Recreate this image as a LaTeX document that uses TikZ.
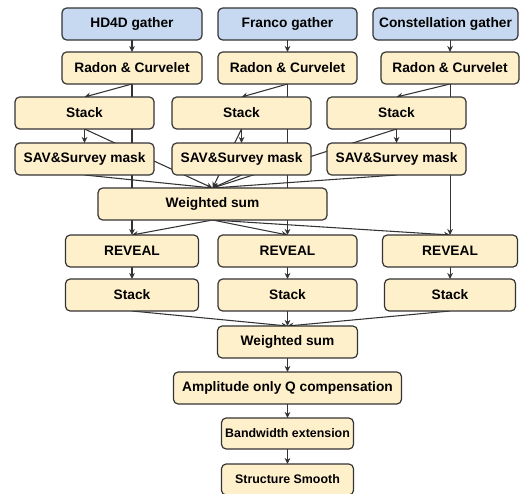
\documentclass[tikz,border=0pt]{standalone}
\usepackage{fontspec}
\setmainfont{Liberation Sans}
\usepackage{xcolor}
\usepackage{tikz}
\usetikzlibrary{arrows.meta,positioning,backgrounds}

\definecolor{boxfill}{HTML}{FFF0CC}
\definecolor{srcfill}{HTML}{C6D9F1}
\definecolor{boxline}{HTML}{333333}

\begin{document}
\begin{tikzpicture}[
    node distance=9pt and 12pt,
    box/.style={draw=boxline, line width=0.9pt, rounded corners=3.5pt, fill=boxfill, outer sep=0pt,
      minimum height=24pt, minimum width=104.25pt, inner sep=1pt, align=center,
      font=\bfseries\fontsize{10.3}{12}\selectfont},
    src/.style={box, fill=srcfill},
    small/.style={box, minimum height=23.25pt, minimum width=99pt, font=\bfseries\fontsize{9.3}{11}\selectfont},
    arr/.style={-{Stealth[length=1.6mm, width=1.5mm]}, line width=0.8pt, draw=boxline}
  ]
    \useasboundingbox (0,0) rectangle (395.25pt,-369.75pt);
    % input gathers
    \node[src, minimum width=105pt] (hdg) at (99pt,-18pt) {HD4D gather};
    \node[src, right=12pt of hdg] (frg) {Franco gather};
    \node[src, minimum width=108.75pt, right=12pt of frg] (cng) {Constellation gather};
    % denoise per survey
    \node[box, minimum width=105pt, below=of hdg] (radL) {Radon \& Curvelet};
    \node[box, below=of frg] (radM) {Radon \& Curvelet};
    \node[box, minimum width=103.5pt, below=of cng, xshift=3.4pt] (radR) {Radon \& Curvelet};
    \node[box, below=9.75pt of radL, xshift=-35.6pt] (stL) {Stack};
    \node[box, right=13.5pt of stL] (stM) {Stack};
    \node[box, right=12pt of stM] (stR) {Stack};
    \node[box, below=10.5pt of stL] (savL) {SAV\&Survey mask};
    \node[box, below=10.5pt of stM] (savM) {SAV\&Survey mask};
    \node[box, below=10.5pt of stR] (savR) {SAV\&Survey mask};
    \node[box, minimum width=171.75pt, below=9.75pt of savM, xshift=-21.75pt] (ws1) {Weighted sum};
    % REVEAL per survey
    \node[box, minimum width=99.75pt, anchor=north] (revL) at ([yshift=-11.25pt]ws1.south -| radL) {REVEAL};
    \node[box, anchor=north] (revM) at ([yshift=-11.25pt]ws1.south -| radM) {REVEAL};
    \node[box, minimum width=101.25pt, anchor=north] (revR) at ([yshift=-11.25pt]ws1.south -| radR) {REVEAL};
    \node[box, minimum width=99.75pt, below=of revL] (st2L) {Stack};
    \node[box, below=of revM] (st2M) {Stack};
    \node[box, minimum width=98.25pt, below=of revR] (st2R) {Stack};
    % merge and post-processing
    \node[box, minimum width=105pt, below=11.25pt of st2M] (ws2) {Weighted sum};
    \node[box, minimum width=171pt, below=10.5pt of ws2] (amp) {Amplitude only Q compensation};
    \node[small, below=10.5pt of amp] (bwe) {Bandwidth extension};
    \node[small, below=11.25pt of bwe] (sms) {Structure Smooth};

    \begin{scope}[on background layer]
      \draw[arr] (hdg) -- (radL);
      \draw[arr] (frg) -- (radM);
      \draw[arr] (cng.south -| radR) -- (radR);
      \draw[arr] (radL) -- (revL);
      \draw[arr] (radM) -- (revM);
      \draw[arr] (radR) -- (revR);
      \draw[arr] (radL.south) -- (stL.north);
      \draw[arr] (radM.south) -- (stM.north);
      \draw[arr] (radR.south) -- (stR.north);
      \draw[arr] (stL) -- (savL);
      \draw[arr] (stM) -- (savM);
      \draw[arr] (stR) -- (savR);
      \draw[arr] (stL.south) -- (ws1.north);
      \draw[arr] (stM.south) -- (ws1.north);
      \draw[arr] (stR.south) -- (ws1.north);
      \draw[arr] (savL.south) -- (ws1.north);
      \draw[arr] (savM.south) -- (ws1.north);
      \draw[arr] (savR.south) -- (ws1.north);
      \draw[arr] (ws1.south) -- (revL.north);
      \draw[arr] (ws1.south) -- (revM.north);
      \draw[arr] (ws1.south) -- (revR.north);
      \draw[arr] (revL) -- (st2L);
      \draw[arr] (revM) -- (st2M);
      \draw[arr] (revR) -- (st2R);
      \draw[arr] (st2L.south) -- (ws2.north);
      \draw[arr] (st2M) -- (ws2);
      \draw[arr] (st2R.south) -- (ws2.north);
      \draw[arr] (ws2) -- (amp);
      \draw[arr] (amp) -- (bwe);
      \draw[arr] (bwe) -- (sms);
    \end{scope}
  \end{tikzpicture}
\end{document}
